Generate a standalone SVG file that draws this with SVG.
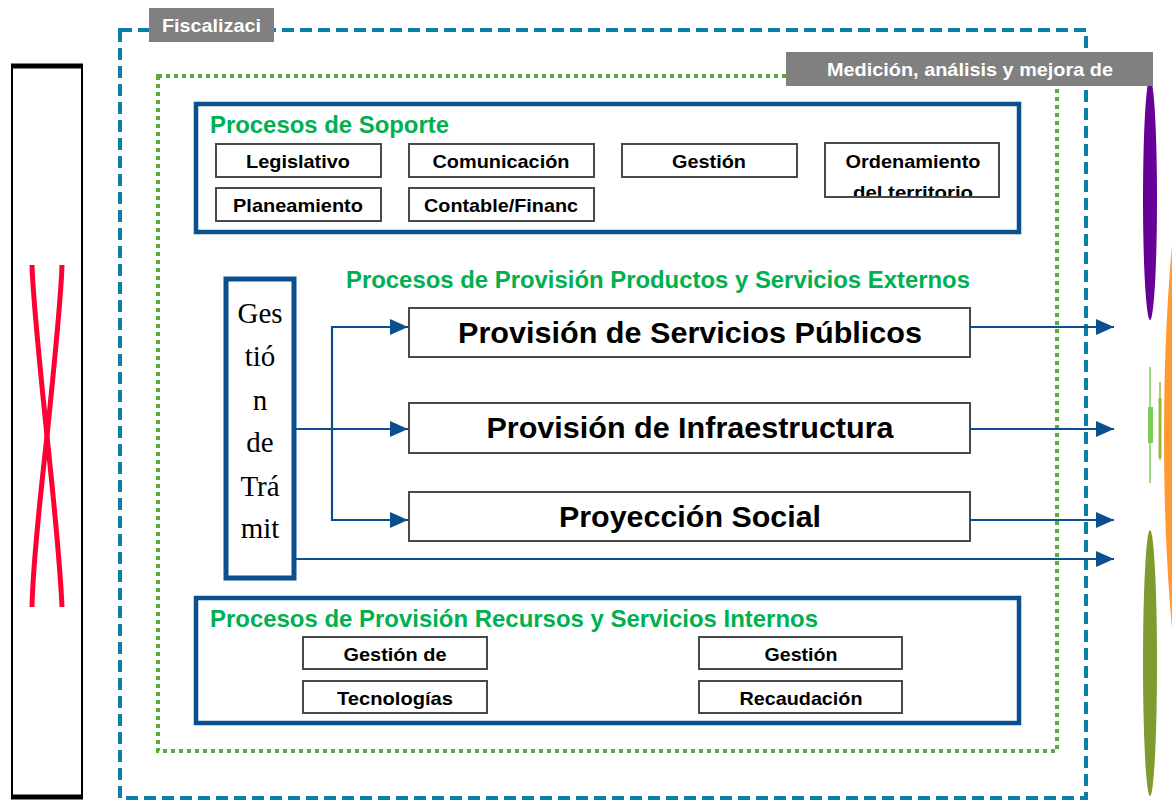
<svg xmlns="http://www.w3.org/2000/svg" width="1172" height="802" viewBox="0 0 1172 802">
<defs>
<style>
.box{fill:#fff;stroke:#4a4a4a;stroke-width:2}
.lbl{font-family:"Liberation Sans",Arial,sans-serif;font-weight:bold;font-size:19px;fill:#000;text-anchor:middle}
.big{font-family:"Liberation Sans",Arial,sans-serif;font-weight:bold;font-size:30px;fill:#000;text-anchor:middle}
.green{font-family:"Liberation Sans",Arial,sans-serif;font-weight:bold;font-size:23px;fill:#00b050}
.tag{font-family:"Liberation Sans",Arial,sans-serif;font-weight:bold;font-size:19px;fill:#fff}
.frame{fill:none;stroke:#0b4f8f;stroke-width:4.5}
.conn{fill:none;stroke:#0b4f8f;stroke-width:2.2}
.serif{font-family:"Liberation Serif","Times New Roman",serif;font-size:29px;fill:#000;text-anchor:middle}
</style>
<marker id="ah2" viewBox="0 0 10 10" refX="10" refY="5" markerWidth="18" markerHeight="16" markerUnits="userSpaceOnUse" orient="auto" preserveAspectRatio="none">
<path d="M0,0 L10,5 L0,10 z" fill="#0b4f8f"/>
</marker>
</defs>
<rect width="1172" height="802" fill="#fff"/>

<g id="left-panel">
<rect x="12" y="66" width="70" height="731" fill="#fff" stroke="#000" stroke-width="2"/>
<line x1="11" y1="66" x2="83" y2="66" stroke="#000" stroke-width="5"/>
<line x1="11" y1="797" x2="83" y2="797" stroke="#000" stroke-width="5"/>
<path d="M32,265 Q33,300 47,436 Q60,560 62,607" fill="none" stroke="#ff0033" stroke-width="5"/>
<path d="M62,265 Q61,300 47,436 Q33,560 32,607" fill="none" stroke="#ff0033" stroke-width="5"/>
</g>

<g id="right-shapes">
<ellipse cx="1201" cy="437" rx="37" ry="307" fill="#ff9933"/>
<ellipse cx="1150" cy="199" rx="7" ry="121" fill="#660099"/>
<ellipse cx="1150" cy="663" rx="7" ry="133" fill="#7f9a2e"/>
<line x1="1150" y1="367" x2="1150" y2="483" stroke="#7ccc5c" stroke-width="1.5"/>
<rect x="1148" y="407" width="5" height="36" fill="#7ccc5c"/>
<line x1="1160" y1="382" x2="1160" y2="460" stroke="#9ab83a" stroke-width="1.5"/>
<rect x="1158.5" y="398" width="3" height="60" fill="#9ab83a"/>
</g>

<g id="fiscalizacion">
<rect x="120" y="30" width="966" height="768" fill="none" stroke="#0e7ea8" stroke-width="4" stroke-dasharray="12,6"/>
<rect x="149" y="8" width="125" height="34" fill="#808080"/>
<text class="tag" x="162" y="32" textLength="99" lengthAdjust="spacingAndGlyphs">Fiscalizaci</text>
</g>

<g id="medicion">
<rect x="158" y="76" width="899" height="675" fill="none" stroke="#5aab3c" stroke-width="4" stroke-dasharray="4,4"/>
<rect x="786" y="52" width="367" height="34" fill="#808080"/>
<text class="tag" x="827" y="76" textLength="286" lengthAdjust="spacingAndGlyphs">Medición, análisis y mejora de</text>
</g>

<g id="soporte">
<rect class="frame" x="196" y="104" width="823" height="128"/>
<text class="green" x="210" y="133" textLength="239" lengthAdjust="spacingAndGlyphs">Procesos de Soporte</text>
<g id="legislativo"><rect class="box" x="216" y="144" width="165" height="33"/><text class="lbl" x="298" y="168" textLength="104" lengthAdjust="spacingAndGlyphs">Legislativo</text></g>
<g id="comunicacion"><rect class="box" x="409" y="144" width="185" height="33"/><text class="lbl" x="501" y="168" textLength="137" lengthAdjust="spacingAndGlyphs">Comunicación</text></g>
<g id="gestion-soporte"><rect class="box" x="622" y="144" width="175" height="33"/><text class="lbl" x="709" y="168" textLength="74" lengthAdjust="spacingAndGlyphs">Gestión</text></g>
<g id="ordenamiento"><rect class="box" x="825" y="143" width="174" height="54"/>
<svg x="826" y="144" width="172" height="52" overflow="hidden"><text class="lbl" x="87" y="24" textLength="135" lengthAdjust="spacingAndGlyphs">Ordenamiento</text><text class="lbl" x="87" y="55" textLength="120" lengthAdjust="spacingAndGlyphs">del territorio</text></svg></g>
<g id="planeamiento"><rect class="box" x="216" y="188" width="165" height="33"/><text class="lbl" x="298" y="212" textLength="130" lengthAdjust="spacingAndGlyphs">Planeamiento</text></g>
<g id="contable"><rect class="box" x="409" y="188" width="185" height="33"/><text class="lbl" x="501" y="212" textLength="154" lengthAdjust="spacingAndGlyphs">Contable/Financ</text></g>
</g>

<text class="green" x="346" y="288" textLength="624" lengthAdjust="spacingAndGlyphs">Procesos de Provisión Productos y Servicios Externos</text>

<g id="gestion-tramite">
<rect x="226" y="279" width="68" height="299" fill="#fff" stroke="#0b4f8f" stroke-width="5"/>
<text class="serif" x="260" y="323">Ges</text>
<text class="serif" x="260" y="366">tió</text>
<text class="serif" x="260" y="410">n</text>
<text class="serif" x="260" y="452">de</text>
<text class="serif" x="260" y="496">Trá</text>
<text class="serif" x="260" y="538">mit</text>
</g>

<g id="servicios-publicos"><rect class="box" x="409" y="308" width="561" height="49"/><text class="big" x="690" y="343" textLength="464" lengthAdjust="spacingAndGlyphs">Provisión de Servicios Públicos</text></g>
<g id="infraestructura"><rect class="box" x="409" y="403" width="561" height="50"/><text class="big" x="690" y="438" textLength="407" lengthAdjust="spacingAndGlyphs">Provisión de Infraestructura</text></g>
<g id="proyeccion-social"><rect class="box" x="409" y="492" width="561" height="49"/><text class="big" x="690" y="527" textLength="262" lengthAdjust="spacingAndGlyphs">Proyección Social</text></g>

<g id="internos">
<rect class="frame" x="196" y="598" width="823" height="125"/>
<text class="green" x="210" y="627" style="font-size:24px" textLength="608" lengthAdjust="spacingAndGlyphs">Procesos de Provisión Recursos y Servicios Internos</text>
<g id="gestion-tecnologias"><rect class="box" x="303" y="637" width="184" height="32"/><text class="lbl" x="395" y="661" textLength="103" lengthAdjust="spacingAndGlyphs">Gestión de</text></g>
<g id="tecnologias"><rect class="box" x="303" y="681" width="184" height="32"/><text class="lbl" x="395" y="705" textLength="116" lengthAdjust="spacingAndGlyphs">Tecnologías</text></g>
<g id="gestion-recaudacion"><rect class="box" x="699" y="637" width="203" height="32"/><text class="lbl" x="801" y="661" textLength="73" lengthAdjust="spacingAndGlyphs">Gestión</text></g>
<g id="recaudacion"><rect class="box" x="699" y="681" width="203" height="32"/><text class="lbl" x="801" y="705" textLength="123" lengthAdjust="spacingAndGlyphs">Recaudación</text></g>
</g>

<g id="connectors">
<path class="conn" d="M294,429 H408" marker-end="url(#ah2)"/>
<path class="conn" d="M408,327 H332 V520 H408" marker-end="url(#ah2)"/>
<path class="conn" d="M332,327 H408" marker-end="url(#ah2)"/>
<path class="conn" d="M294,559 H1114" marker-end="url(#ah2)"/>
<path class="conn" d="M970,327 H1114" marker-end="url(#ah2)"/>
<path class="conn" d="M970,429 H1114" marker-end="url(#ah2)"/>
<path class="conn" d="M970,520 H1114" marker-end="url(#ah2)"/>
</g>
</svg>
